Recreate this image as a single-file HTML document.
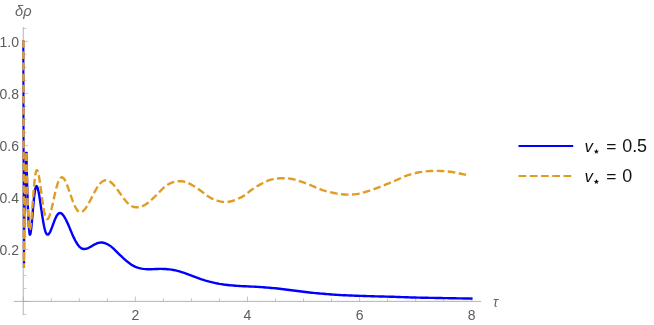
<!DOCTYPE html>
<html><head><meta charset="utf-8"><title>plot</title>
<style>
html,body{margin:0;padding:0;background:#fff;}
body{width:654px;height:325px;overflow:hidden;font-family:"Liberation Sans",sans-serif;}
svg{display:block;will-change:transform;}
text{font-family:"Liberation Sans",sans-serif;}
</style></head><body>
<svg width="654" height="325" viewBox="0 0 654 325">
<rect width="654" height="325" fill="#fff"/>
<g stroke="#acacac" stroke-width="0.9" fill="none">
<line x1="13.8" y1="301.4" x2="481.2" y2="301.4"/>
<line x1="23.25" y1="27.2" x2="23.25" y2="315.1"/>
</g>
<g stroke="#acacac" stroke-width="0.7" fill="none">
<line x1="23.25" y1="301.4" x2="23.25" y2="296.5"/>
<line x1="51.28" y1="301.4" x2="51.28" y2="298.29999999999995"/>
<line x1="79.31" y1="301.4" x2="79.31" y2="298.29999999999995"/>
<line x1="107.34" y1="301.4" x2="107.34" y2="298.29999999999995"/>
<line x1="135.37" y1="301.4" x2="135.37" y2="296.5"/>
<line x1="163.40" y1="301.4" x2="163.40" y2="298.29999999999995"/>
<line x1="191.43" y1="301.4" x2="191.43" y2="298.29999999999995"/>
<line x1="219.46" y1="301.4" x2="219.46" y2="298.29999999999995"/>
<line x1="247.49" y1="301.4" x2="247.49" y2="296.5"/>
<line x1="275.52" y1="301.4" x2="275.52" y2="298.29999999999995"/>
<line x1="303.55" y1="301.4" x2="303.55" y2="298.29999999999995"/>
<line x1="331.58" y1="301.4" x2="331.58" y2="298.29999999999995"/>
<line x1="359.61" y1="301.4" x2="359.61" y2="296.5"/>
<line x1="387.64" y1="301.4" x2="387.64" y2="298.29999999999995"/>
<line x1="415.67" y1="301.4" x2="415.67" y2="298.29999999999995"/>
<line x1="443.70" y1="301.4" x2="443.70" y2="298.29999999999995"/>
<line x1="471.73" y1="301.4" x2="471.73" y2="296.5"/>
<line x1="23.25" y1="314.40" x2="26.35" y2="314.40"/>
<line x1="23.25" y1="301.40" x2="28.15" y2="301.40"/>
<line x1="23.25" y1="288.40" x2="26.35" y2="288.40"/>
<line x1="23.25" y1="275.40" x2="26.35" y2="275.40"/>
<line x1="23.25" y1="262.40" x2="26.35" y2="262.40"/>
<line x1="23.25" y1="249.40" x2="28.15" y2="249.40"/>
<line x1="23.25" y1="236.40" x2="26.35" y2="236.40"/>
<line x1="23.25" y1="223.40" x2="26.35" y2="223.40"/>
<line x1="23.25" y1="210.40" x2="26.35" y2="210.40"/>
<line x1="23.25" y1="197.40" x2="28.15" y2="197.40"/>
<line x1="23.25" y1="184.40" x2="26.35" y2="184.40"/>
<line x1="23.25" y1="171.40" x2="26.35" y2="171.40"/>
<line x1="23.25" y1="158.40" x2="26.35" y2="158.40"/>
<line x1="23.25" y1="145.40" x2="28.15" y2="145.40"/>
<line x1="23.25" y1="132.40" x2="26.35" y2="132.40"/>
<line x1="23.25" y1="119.40" x2="26.35" y2="119.40"/>
<line x1="23.25" y1="106.40" x2="26.35" y2="106.40"/>
<line x1="23.25" y1="93.40" x2="28.15" y2="93.40"/>
<line x1="23.25" y1="80.40" x2="26.35" y2="80.40"/>
<line x1="23.25" y1="67.40" x2="26.35" y2="67.40"/>
<line x1="23.25" y1="54.40" x2="26.35" y2="54.40"/>
<line x1="23.25" y1="41.40" x2="28.15" y2="41.40"/>
<line x1="23.25" y1="28.40" x2="26.35" y2="28.40"/>
</g>
<g font-size="14.0" fill="#5c5c5c">
<text x="135.4" y="319.6" text-anchor="middle">2</text>
<text x="247.5" y="319.6" text-anchor="middle">4</text>
<text x="359.6" y="319.6" text-anchor="middle">6</text>
<text x="471.7" y="319.6" text-anchor="middle">8</text>
<text x="19.0" y="255.0" text-anchor="end">0.2</text>
<text x="19.0" y="203.0" text-anchor="end">0.4</text>
<text x="19.0" y="151.0" text-anchor="end">0.6</text>
<text x="19.0" y="99.0" text-anchor="end">0.8</text>
<text x="19.0" y="47.0" text-anchor="end">1.0</text>
</g>
<text x="15.0" y="15.5" font-size="14.7" font-style="italic" fill="#666">δρ</text>
<text x="492.9" y="307.2" font-size="13.8" font-style="italic" fill="#666">τ</text>
<g fill="none" stroke="#0000ff" stroke-linejoin="miter" stroke-miterlimit="3.2">
<path d="M23.32,40.20 L23.92,267.70 L24.45,215.00 L25.50,175.00 L26.35,151.90" stroke-width="2.1"/>
<path d="M26.35,151.90 L26.42,154.95 L26.48,158.00 L26.55,161.03 L26.62,164.05 L26.69,167.06 L26.76,170.04 L26.83,172.99 L26.91,175.91 L26.98,178.79 L27.06,181.63 L27.13,184.43 L27.21,187.18 L27.29,189.87 L27.37,192.50 L27.45,195.07 L27.53,197.57 L27.61,200.00 L27.69,202.40 L27.78,204.77 L27.87,207.10 L27.96,209.39 L28.06,211.63 L28.15,213.81 L28.25,215.92 L28.35,217.95 L28.45,219.90 L28.55,221.76 L28.65,223.53 L28.76,225.18 L28.86,226.73 L28.97,228.16 L29.08,229.46 L29.19,230.63 L29.30,231.66 L29.40,232.55 L29.51,233.29 L29.62,233.88 L29.73,234.30 L29.84,234.56 L29.95,234.65 L30.17,234.44 L30.39,233.82 L30.61,232.81 L30.84,231.40 L31.08,229.64 L31.32,227.55 L31.56,225.17 L31.81,222.54 L32.06,219.70 L32.32,216.69 L32.59,213.59 L32.86,210.43 L33.13,207.26 L33.41,204.16 L33.69,201.15 L33.98,198.31 L34.28,195.68 L34.58,193.30 L34.89,191.21 L35.20,189.45 L35.52,188.04 L35.84,187.03 L36.17,186.41 L36.50,186.20 L36.87,186.41 L37.26,187.02 L37.64,188.04 L38.04,189.44 L38.44,191.20 L38.85,193.29 L39.27,195.67 L39.70,198.30 L40.13,201.14 L40.57,204.14 L41.02,207.24 L41.47,210.40 L41.93,213.56 L42.40,216.66 L42.88,219.66 L43.37,222.50 L43.86,225.13 L44.36,227.51 L44.87,229.60 L45.39,231.36 L45.92,232.76 L46.45,233.78 L47.00,234.39 L47.55,234.60 L48.00,234.51 L48.45,234.23 L48.91,233.78 L49.38,233.15 L49.85,232.37 L50.32,231.44 L50.81,230.37 L51.29,229.20 L51.79,227.93 L52.29,226.60 L52.79,225.21 L53.30,223.80 L53.82,222.39 L54.34,221.00 L54.87,219.67 L55.41,218.40 L55.95,217.23 L56.49,216.16 L57.05,215.23 L57.60,214.45 L58.17,213.82 L58.74,213.37 L59.32,213.09 L59.90,213.00 L60.74,213.15 L61.60,213.61 L62.47,214.37 L63.35,215.41 L64.25,216.72 L65.16,218.27 L66.08,220.04 L67.02,222.00 L67.97,224.11 L68.93,226.34 L69.91,228.65 L70.90,231.00 L71.90,233.35 L72.92,235.66 L73.95,237.89 L75.00,240.00 L76.06,241.96 L77.14,243.73 L78.23,245.28 L79.33,246.59 L80.45,247.63 L81.59,248.39 L82.74,248.85 L83.90,249.00 L84.57,248.97 L85.25,248.89 L85.94,248.75 L86.63,248.56 L87.32,248.33 L88.02,248.05 L88.73,247.73 L89.44,247.38 L90.15,246.99 L90.87,246.59 L91.60,246.17 L92.33,245.75 L93.06,245.33 L93.80,244.91 L94.55,244.51 L95.30,244.12 L96.06,243.77 L96.82,243.45 L97.59,243.17 L98.36,242.94 L99.13,242.75 L99.92,242.61 L100.71,242.53 L101.50,242.50 L103.50,242.75 L105.50,243.38 L107.50,244.26 L109.50,245.39 L111.50,246.84 L113.50,248.61 L115.50,250.57 L117.50,252.60 L119.50,254.56 L121.50,256.45 L123.50,258.27 L125.50,260.05 L127.50,261.74 L129.50,263.30 L131.50,264.67 L133.50,265.83 L135.50,266.79 L137.50,267.56 L139.50,268.16 L141.50,268.60 L143.50,268.91 L145.50,269.10 L147.50,269.19 L149.50,269.21 L151.50,269.18 L153.50,269.11 L155.50,269.03 L157.50,268.96 L159.50,268.91 L161.50,268.90 L163.50,268.95 L165.50,269.04 L167.50,269.19 L169.50,269.40 L171.50,269.66 L173.50,269.98 L175.50,270.39 L177.50,270.87 L179.50,271.43 L181.50,272.06 L183.50,272.73 L185.50,273.44 L187.50,274.18 L189.50,274.92 L191.50,275.66 L193.50,276.39 L195.50,277.12 L197.50,277.85 L199.50,278.57 L201.50,279.28 L203.50,279.97 L205.50,280.60 L207.50,281.17 L209.50,281.70 L211.50,282.18 L213.50,282.64 L215.50,283.07 L217.50,283.48 L219.50,283.86 L221.50,284.19 L223.50,284.49 L225.50,284.74 L227.50,284.98 L229.50,285.19 L231.50,285.39 L233.50,285.57 L235.50,285.73 L237.50,285.86 L239.50,285.98 L241.50,286.09 L243.50,286.20 L245.50,286.30 L247.50,286.40 L249.50,286.49 L251.50,286.58 L253.50,286.67 L255.50,286.77 L257.50,286.88 L259.50,287.00 L261.50,287.14 L263.50,287.30 L265.50,287.47 L267.50,287.64 L269.50,287.81 L271.50,287.98 L273.50,288.15 L275.50,288.32 L277.50,288.52 L279.50,288.73 L281.50,288.98 L283.50,289.24 L285.50,289.51 L287.50,289.79 L289.50,290.05 L291.50,290.31 L293.50,290.55 L295.50,290.79 L297.50,291.03 L299.50,291.27 L301.50,291.52 L303.50,291.76 L305.50,292.01 L307.50,292.25 L309.50,292.48 L311.50,292.70 L313.50,292.91 L315.50,293.11 L317.50,293.30 L319.50,293.48 L321.50,293.65 L323.50,293.81 L325.50,293.97 L327.50,294.12 L329.50,294.28 L331.50,294.43 L333.50,294.58 L335.50,294.72 L337.50,294.85 L339.50,294.97 L341.50,295.08 L343.50,295.18 L345.50,295.28 L347.50,295.37 L349.50,295.46 L351.50,295.54 L353.50,295.63 L355.50,295.71 L357.50,295.78 L359.50,295.85 L361.50,295.91 L363.50,295.97 L365.50,296.03 L367.50,296.09 L369.50,296.15 L371.50,296.22 L373.50,296.28 L375.50,296.34 L377.50,296.39 L379.50,296.45 L381.50,296.49 L383.50,296.54 L385.50,296.59 L387.50,296.63 L389.50,296.69 L391.50,296.74 L393.50,296.81 L395.50,296.88 L397.50,296.95 L399.50,297.02 L401.50,297.10 L403.50,297.17 L405.50,297.25 L407.50,297.32 L409.50,297.38 L411.50,297.45 L413.50,297.50 L415.50,297.56 L417.50,297.60 L419.50,297.65 L421.50,297.69 L423.50,297.73 L425.50,297.77 L427.50,297.81 L429.50,297.84 L431.50,297.88 L433.50,297.91 L435.50,297.95 L437.50,297.98 L439.50,298.02 L441.50,298.05 L443.50,298.09 L445.50,298.12 L447.50,298.16 L449.50,298.19 L451.50,298.23 L453.50,298.26 L455.50,298.30 L457.50,298.33 L459.50,298.37 L461.50,298.40 L463.50,298.44 L465.50,298.47 L467.50,298.51 L469.50,298.54 L471.50,298.58 L472.60,298.60" stroke-width="2.4"/>
</g>
<g fill="none" stroke="#e19c24" stroke-width="2.4" stroke-linejoin="miter" stroke-miterlimit="3.2" stroke-dasharray="7.65 3.5">
<path d="M23.35,40.20 L23.95,267.80 L24.45,215.00 L25.50,175.00 L26.35,151.80"/>
<path d="M26.35,151.80 L26.42,154.85 L26.48,157.90 L26.55,160.94 L26.62,163.97 L26.69,166.98 L26.76,169.96 L26.83,172.92 L26.91,175.84 L26.98,178.73 L27.06,181.57 L27.13,184.37 L27.21,187.12 L27.29,189.81 L27.37,192.45 L27.45,195.02 L27.53,197.53 L27.61,199.97 L27.69,202.33 L27.78,204.61 L27.86,206.81 L27.95,208.93 L28.04,210.96 L28.12,212.90 L28.21,214.74 L28.30,216.49 L28.40,218.14 L28.49,219.68 L28.58,221.12 L28.68,222.45 L28.77,223.68 L28.87,224.79 L28.97,225.79 L29.07,226.68 L29.17,227.45 L29.27,228.11 L29.38,228.64 L29.48,229.06 L29.59,229.36 L29.69,229.54 L29.80,229.60" stroke-dashoffset="9.6"/>
<path d="M29.80,229.60 L30.03,229.35 L30.26,228.59 L30.51,227.34 L30.75,225.62 L31.00,223.46 L31.26,220.90 L31.52,217.98 L31.79,214.75 L32.06,211.27 L32.34,207.59 L32.63,203.78 L32.92,199.90 L33.22,196.02 L33.52,192.21 L33.83,188.53 L34.15,185.05 L34.47,181.82 L34.80,178.90 L35.13,176.34 L35.47,174.18 L35.82,172.46 L36.17,171.21 L36.53,170.45 L36.90,170.20 L37.25,170.41 L37.62,171.03 L37.98,172.06 L38.36,173.48 L38.74,175.26 L39.12,177.38 L39.51,179.79 L39.91,182.45 L40.32,185.32 L40.73,188.36 L41.15,191.50 L41.57,194.70 L42.00,197.90 L42.44,201.04 L42.88,204.08 L43.34,206.95 L43.79,209.61 L44.26,212.02 L44.73,214.14 L45.21,215.92 L45.70,217.34 L46.19,218.37 L46.69,218.99 L47.20,219.20 L47.72,219.02 L48.24,218.49 L48.78,217.61 L49.32,216.39 L49.87,214.87 L50.42,213.06 L50.99,211.00 L51.56,208.72 L52.14,206.27 L52.73,203.67 L53.32,200.98 L53.92,198.25 L54.53,195.52 L55.15,192.83 L55.78,190.23 L56.42,187.78 L57.06,185.50 L57.71,183.44 L58.37,181.63 L59.04,180.11 L59.72,178.89 L60.40,178.01 L61.10,177.48 L61.80,177.30 L62.48,177.45 L63.17,177.89 L63.86,178.62 L64.57,179.63 L65.28,180.90 L66.00,182.40 L66.73,184.11 L67.46,186.00 L68.21,188.04 L68.96,190.20 L69.72,192.43 L70.49,194.70 L71.27,196.97 L72.06,199.20 L72.85,201.36 L73.66,203.40 L74.47,205.29 L75.29,207.00 L76.12,208.50 L76.96,209.77 L77.80,210.78 L78.66,211.51 L79.53,211.95 L80.40,212.10 L81.34,211.96 L82.30,211.56 L83.26,210.89 L84.24,209.96 L85.22,208.80 L86.22,207.43 L87.22,205.86 L88.24,204.12 L89.27,202.25 L90.30,200.28 L91.35,198.23 L92.41,196.15 L93.48,194.07 L94.56,192.02 L95.66,190.05 L96.76,188.17 L97.88,186.44 L99.00,184.87 L100.14,183.50 L101.29,182.34 L102.45,181.41 L103.62,180.74 L104.81,180.34 L106.00,180.20 L108.00,180.57 L110.00,181.61 L112.00,183.21 L114.00,185.28 L116.00,187.71 L118.00,190.38 L120.00,193.20 L122.00,196.03 L124.00,198.75 L126.00,201.24 L128.00,203.38 L130.00,205.09 L132.00,206.27 L134.00,206.97 L136.00,207.27 L138.00,207.27 L140.00,206.98 L142.00,206.38 L144.00,205.44 L146.00,204.18 L148.00,202.69 L150.00,201.05 L152.00,199.31 L154.00,197.47 L156.00,195.51 L158.00,193.43 L160.00,191.32 L162.00,189.28 L164.00,187.43 L166.00,185.84 L168.00,184.52 L170.00,183.44 L172.00,182.58 L174.00,181.93 L176.00,181.49 L178.00,181.24 L180.00,181.18 L182.00,181.31 L184.00,181.65 L186.00,182.20 L188.00,182.96 L190.00,183.90 L192.00,184.98 L194.00,186.16 L196.00,187.43 L198.00,188.77 L200.00,190.20 L202.00,191.72 L204.00,193.29 L206.00,194.83 L208.00,196.27 L210.00,197.52 L212.00,198.60 L214.00,199.52 L216.00,200.28 L218.00,200.90 L220.00,201.37 L222.00,201.70 L224.00,201.88 L226.00,201.91 L228.00,201.77 L230.00,201.46 L232.00,200.98 L234.00,200.35 L236.00,199.60 L238.00,198.77 L240.00,197.88 L242.00,196.87 L244.00,195.68 L246.00,194.26 L248.00,192.65 L250.00,191.04 L252.00,189.57 L254.00,188.21 L256.00,186.96 L258.00,185.77 L260.00,184.63 L262.00,183.52 L264.00,182.46 L266.00,181.49 L268.00,180.64 L270.00,179.94 L272.00,179.40 L274.00,179.00 L276.00,178.71 L278.00,178.48 L280.00,178.32 L282.00,178.23 L284.00,178.20 L286.00,178.25 L288.00,178.38 L290.00,178.61 L292.00,178.96 L294.00,179.42 L296.00,179.98 L298.00,180.61 L300.00,181.28 L302.00,181.97 L304.00,182.67 L306.00,183.39 L308.00,184.14 L310.00,184.92 L312.00,185.76 L314.00,186.64 L316.00,187.54 L318.00,188.42 L320.00,189.24 L322.00,189.98 L324.00,190.62 L326.00,191.19 L328.00,191.69 L330.00,192.15 L332.00,192.60 L334.00,193.03 L336.00,193.43 L338.00,193.79 L340.00,194.09 L342.00,194.32 L344.00,194.47 L346.00,194.56 L348.00,194.60 L350.00,194.59 L352.00,194.53 L354.00,194.39 L356.00,194.16 L358.00,193.82 L360.00,193.39 L362.00,192.89 L364.00,192.33 L366.00,191.75 L368.00,191.15 L370.00,190.53 L372.00,189.88 L374.00,189.20 L376.00,188.48 L378.00,187.72 L380.00,186.93 L382.00,186.12 L384.00,185.30 L386.00,184.47 L388.00,183.63 L390.00,182.79 L392.00,181.95 L394.00,181.10 L396.00,180.24 L398.00,179.36 L400.00,178.48 L402.00,177.62 L404.00,176.77 L406.00,175.97 L408.00,175.22 L410.00,174.54 L412.00,173.93 L414.00,173.40 L416.00,172.92 L418.00,172.51 L420.00,172.14 L422.00,171.82 L424.00,171.56 L426.00,171.33 L428.00,171.16 L430.00,171.04 L432.00,170.96 L434.00,170.92 L436.00,170.90 L438.00,170.91 L440.00,170.94 L442.00,171.01 L444.00,171.12 L446.00,171.29 L448.00,171.50 L450.00,171.76 L452.00,172.06 L454.00,172.39 L456.00,172.74 L458.00,173.13 L460.00,173.54 L462.00,173.98 L464.00,174.44 L466.00,174.92 L468.00,175.40 L469.00,175.65" stroke-dasharray="7.6 3.48" stroke-dashoffset="0.81"/>
</g>
<line x1="518.5" y1="146.0" x2="573.2" y2="146.0" stroke="#0000ff" stroke-width="2.2"/>
<line x1="518.5" y1="175.9" x2="573.5" y2="175.9" stroke="#e19c24" stroke-width="2.0" stroke-dasharray="7.8 3.45"/>
<g font-size="17.9" fill="#111">
<text x="584.6" y="151.5" font-style="italic" font-size="16.8">v</text>
<text x="606.3" y="152.1" font-size="17.4">=</text>
<text x="622.2" y="151.6">0.5</text>
<text x="584.6" y="181.7" font-style="italic" font-size="16.8">v</text>
<text x="606.3" y="182.3" font-size="17.4">=</text>
<text x="622.2" y="181.8">0</text>
<polygon points="596.40,148.80 597.08,150.67 599.06,150.73 597.49,151.96 598.05,153.87 596.40,152.75 594.75,153.87 595.31,151.96 593.74,150.73 595.72,150.67"/>
<polygon points="596.40,179.00 597.08,180.87 599.06,180.93 597.49,182.16 598.05,184.07 596.40,182.95 594.75,184.07 595.31,182.16 593.74,180.93 595.72,180.87"/>
</g>
</svg>
</body></html>
